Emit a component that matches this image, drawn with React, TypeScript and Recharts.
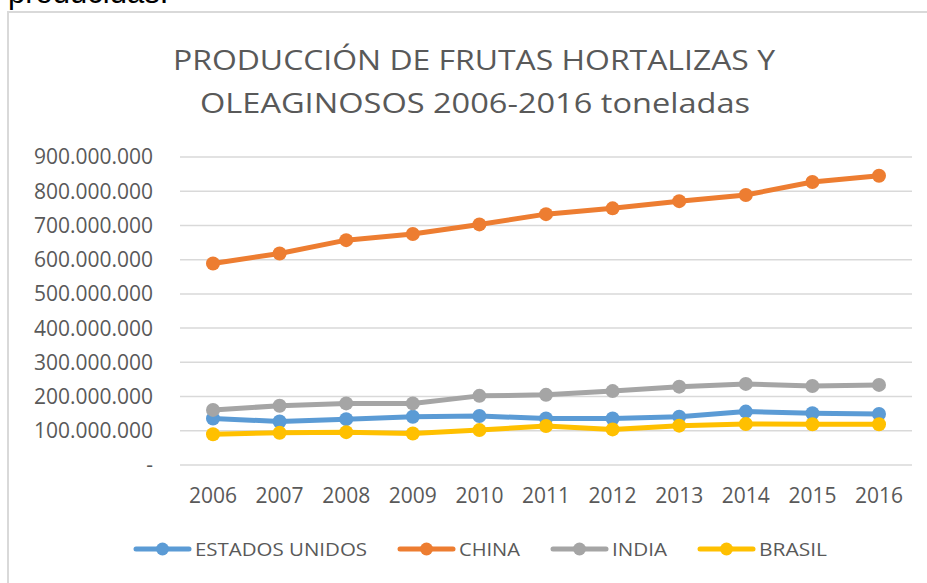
import React from 'react';
import { LineChart, Line, XAxis, YAxis, CartesianGrid, Legend } from 'recharts';

const years = ['2006', '2007', '2008', '2009', '2010', '2011', '2012', '2013', '2014', '2015', '2016'];
const estadosUnidos = [136000000, 127000000, 134000000, 141000000, 143000000, 136000000, 136000000, 141000000, 156000000, 151000000, 149000000];
const china = [589000000, 618000000, 657000000, 675000000, 703000000, 733000000, 750000000, 771000000, 789000000, 827000000, 845000000];
const india = [161000000, 173000000, 180000000, 180000000, 202000000, 205000000, 216000000, 229000000, 237000000, 231000000, 234000000];
const brasil = [90000000, 94000000, 96000000, 92000000, 102000000, 114000000, 104000000, 115000000, 120000000, 119000000, 119000000];
const yTicks = [0, 100000000, 200000000, 300000000, 400000000, 500000000, 600000000, 700000000, 800000000, 900000000];
const seriesNames = ['ESTADOS UNIDOS', 'CHINA', 'INDIA', 'BRASIL'];
const titleLines = ['PRODUCCIÓN DE FRUTAS HORTALIZAS Y', 'OLEAGINOSOS 2006-2016 toneladas'];
const leadText = 'producidas.';

const seriesKeys = ['eu', 'cn', 'in', 'br'];
const colors = ['#5B9BD5', '#ED7D31', '#A5A5A5', '#FFC000'];
const legendTextWidths: Record<string, number> = { 'ESTADOS UNIDOS': 172, CHINA: 61, INDIA: 55, BRASIL: 68 };

const data = years.map((year, i) => ({
  year,
  eu: estadosUnidos[i],
  cn: china[i],
  in: india[i],
  br: brasil[i],
}));

const fmt = (v: number) => (v === 0 ? '-' : String(v).replace(/\B(?=(\d{3})+(?!\d))/g, '.'));

const FONT = '"Open Sans", "DejaVu Sans", sans-serif';
const TXT = '#595959';

const LegendContent = (props: any) => {
  const payload = [...(props.payload || [])].sort(
    (a: any, b: any) => seriesNames.indexOf(String(a.value)) - seriesNames.indexOf(String(b.value))
  );
  let x = 134;
  const items = payload.map((p: any, i: number) => {
    const name = String(p.value);
    const tw = legendTextWidths[name] || 60;
    const x0 = x;
    x += 57 + 4 + tw + 31;
    return (
      <g key={i}>
        <line x1={x0 + 2} x2={x0 + 55} y1={14} y2={14} stroke={p.color} strokeWidth={5} strokeLinecap="round" />
        <circle cx={x0 + 28.5} cy={14} r={6.5} fill={p.color} />
        <text x={x0 + 61} y={21} fontSize={19} fill={TXT} fontFamily={FONT} textLength={tw} lengthAdjust="spacingAndGlyphs">
          {name}
        </text>
      </g>
    );
  });
  return (
    <svg width={927} height={30} style={{ display: 'block' }}>
      {items}
    </svg>
  );
};

export default function App() {
  return (
    <div style={{ position: 'absolute', left: 0, top: 0, width: 927, height: 583, background: '#fff', overflow: 'hidden' }}>
      <div style={{ position: 'absolute', left: 7, top: 11, right: 0, height: 2, background: '#D9D9D9' }} />
      <div style={{ position: 'absolute', left: 7, top: 11, width: 2, bottom: 0, background: '#D9D9D9' }} />
      <LineChart width={927} height={583} data={data} margin={{ top: 157, right: 15, left: 10, bottom: 48 }}>
        <CartesianGrid vertical={false} stroke="#D9D9D9" strokeWidth={1.5} />
        <XAxis
          dataKey="year"
          interval={0}
          padding={{ left: 33, right: 33 }}
          tickLine={false}
          axisLine={false}
          tickSize={0}
          tickMargin={23}
          height={40}
          tick={{ fontSize: 21, fill: TXT, fontFamily: FONT }}
        />
        <YAxis
          domain={[0, 900000000]}
          ticks={yTicks}
          interval={0}
          width={170}
          tickLine={false}
          axisLine={false}
          tickSize={0}
          tickMargin={27}
          tickFormatter={fmt}
          tick={{ fontSize: 21, fill: TXT, fontFamily: FONT }}
        />
        {seriesKeys.map((k, i) => (
          <Line
            key={k}
            dataKey={k}
            name={seriesNames[i]}
            stroke={colors[i]}
            strokeWidth={5}
            strokeLinecap="round"
            strokeLinejoin="round"
            dot={{ r: 7, fill: colors[i], stroke: colors[i], strokeWidth: 0 }}
            activeDot={false}
            isAnimationActive={false}
          />
        ))}
        <Legend content={<LegendContent />} wrapperStyle={{ height: 30, top: 535, bottom: 'auto', left: 0, width: 927 }} />
      </LineChart>
      <svg width={927} height={583} style={{ position: 'absolute', left: 0, top: 0, pointerEvents: 'none' }}>
        <text x={8} y={3} fontSize={31} fill="#000" fontFamily='"Liberation Sans", Arial, sans-serif'>
          {leadText}
        </text>
        <text x={474} y={70} textAnchor="middle" fontSize={28} fill={TXT} fontFamily={FONT} textLength={602} lengthAdjust="spacingAndGlyphs">
          {titleLines[0]}
        </text>
        <text x={475} y={113} textAnchor="middle" fontSize={28} fill={TXT} fontFamily={FONT} textLength={550} lengthAdjust="spacingAndGlyphs">
          {titleLines[1]}
        </text>
      </svg>
    </div>
  );
}
